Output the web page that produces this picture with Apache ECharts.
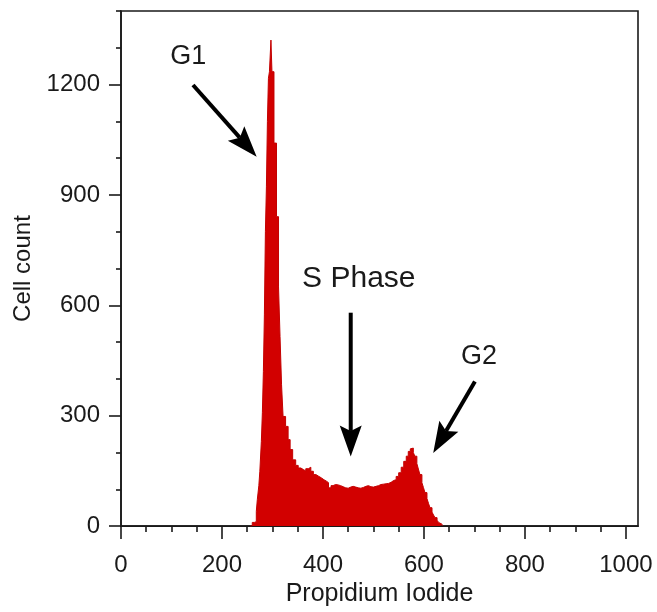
<!DOCTYPE html>
<html><head><meta charset="utf-8">
<script src="https://cdn.jsdelivr.net/npm/echarts@6/dist/echarts.min.js"></script>
<style>html,body{margin:0;padding:0;background:#fff}#c{width:657px;height:612px}</style>
</head><body><div id="c"></div>
<script>
// Histogram: bin start channel (Propidium Iodide) and cell count
const channels = [256,260,264,268,270,273,275,278,280,282,284,286,288,290,292,294,297,299,303,308,312,315,318,321,326,331,335,340,346,351,356,362,366,371,376,381,386,392,397,402,407,411,416,420,425,430,435,440,445,450,455,460,465,470,475,480,485,490,495,500,505,510,515,520,525,530,535,540,545,550,555,560,565,569,573,576,579,582,586,589,592,596,599,602,606,609,612,616,619,622,626,629,632,636];
const counts = [0,10,12,40,72,110,149,230,308,420,574,800,922,1100,1217,1235,1321,1235,1041,841,650,515,384,298,271,235,208,180,165,158,153,150,156,160,149,140,135,131,126,122,118,104,110,113,112,110,107,104,103,106,108,106,104,103,105,108,110,107,106,108,110,113,114,115,116,119,124,126,135,145,160,176,190,203,210,212,200,190,170,155,140,118,105,91,75,62,50,38,30,23,16,10,5,0];

const xTicks = [0,200,400,600,800,1000];
const xMinorTicks = [50,100,150,250,300,350,450,500,550,650,700,750,850,900,950];
const yTicks = [0,300,600,900,1200];
const yMinorTicks = [100,200,400,500,700,800,1000,1100,1300,1400];

// Annotations in data coordinates
const annText = ['G1','S Phase','G2'];
const annTextAt = [[133,1275],[471,672],[709,460]];
const annArrowFrom = [[142.6,1199],[455,580],[701,393]];
const annArrowTo = [[268.7,1004],[455,189.5],[618.4,198.7]];

const font = '"Liberation Sans", Arial, sans-serif';
const ink = '#1a1a1a';
const chart = echarts.init(document.getElementById('c'), null, {renderer:'canvas'});

const tickStyle = {color: ink, width: 1.6};
const plain = v => String(v);
chart.setOption({
  animation: false,
  backgroundColor: '#fff',
  grid: {left:121, right:19, top:11, bottom:85, show:true, borderColor:ink, borderWidth:1.6, backgroundColor:'transparent'},
  xAxis: [{
    type:'value', min:0, max:1024, interval:200, position:'bottom',
    name:'Propidium Iodide', nameLocation:'middle', nameGap:51,
    nameTextStyle:{fontSize:25, color:ink, fontFamily:font},
    axisLine:{show:true, onZero:false, lineStyle:tickStyle},
    axisTick:{show:true, customValues:xTicks, length:13, lineStyle:tickStyle},
    axisLabel:{customValues:xTicks, formatter:plain, fontSize:24, color:ink, fontFamily:font, margin:27},
    splitLine:{show:false}
  },{
    type:'value', min:0, max:1024, position:'bottom',
    axisLine:{show:false, onZero:false},
    axisTick:{show:true, customValues:xMinorTicks, length:6, lineStyle:tickStyle},
    axisLabel:{show:false}, splitLine:{show:false}
  }],
  yAxis: [{
    type:'value', min:0, max:1400, interval:300, position:'left',
    name:'Cell count', nameLocation:'middle', nameGap:80,
    nameTextStyle:{fontSize:24, color:ink, fontFamily:font},
    axisLine:{show:true, onZero:false, lineStyle:tickStyle},
    axisTick:{show:true, customValues:yTicks, length:12, lineStyle:tickStyle},
    axisLabel:{customValues:yTicks, formatter:plain, fontSize:24, color:ink, fontFamily:font, margin:21},
    splitLine:{show:false}
  },{
    type:'value', min:0, max:1400, position:'left',
    axisLine:{show:false, onZero:false},
    axisTick:{show:true, customValues:yMinorTicks, length:5, lineStyle:tickStyle},
    axisLabel:{show:false}, splitLine:{show:false}
  }],
  series: [{
    type:'line', xAxisIndex:0, yAxisIndex:0, step:'end', symbol:'none',
    data: channels.map((c,i)=>[c, counts[i]]),
    lineStyle:{color:'#c40000', width:1},
    areaStyle:{color:'#d20000', opacity:1}
  }]
});

const g = [];
const finder = {xAxisIndex:0, yAxisIndex:0};
for (let i = 0; i < annText.length; i++) {
  const p = chart.convertToPixel(finder, annTextAt[i]);
  g.push({type:'text', x:p[0], y:p[1], silent:true,
    style:{text:annText[i], fontSize: i===1 ? 30 : 27, fontFamily:font, fill:ink, align:'center', verticalAlign:'middle'}});
  const s = chart.convertToPixel(finder, annArrowFrom[i]);
  const t = chart.convertToPixel(finder, annArrowTo[i]);
  const dx = t[0]-s[0], dy = t[1]-s[1], len = Math.hypot(dx,dy);
  const ux = dx/len, uy = dy/len, nx = -uy, ny = ux;
  const L = 31, W = 11;
  const bx = t[0]-ux*L, by = t[1]-uy*L;
  const mx = t[0]-ux*L*0.82, my = t[1]-uy*L*0.82;
  g.push({type:'line', silent:true, shape:{x1:s[0], y1:s[1], x2:mx, y2:my}, style:{stroke:'#000', lineWidth:4}});
  g.push({type:'polygon', silent:true, shape:{points:[[t[0],t[1]],[bx+nx*W,by+ny*W],[mx,my],[bx-nx*W,by-ny*W]]}, style:{fill:'#000'}});
}
chart.setOption({graphic:g});
</script></body></html>
